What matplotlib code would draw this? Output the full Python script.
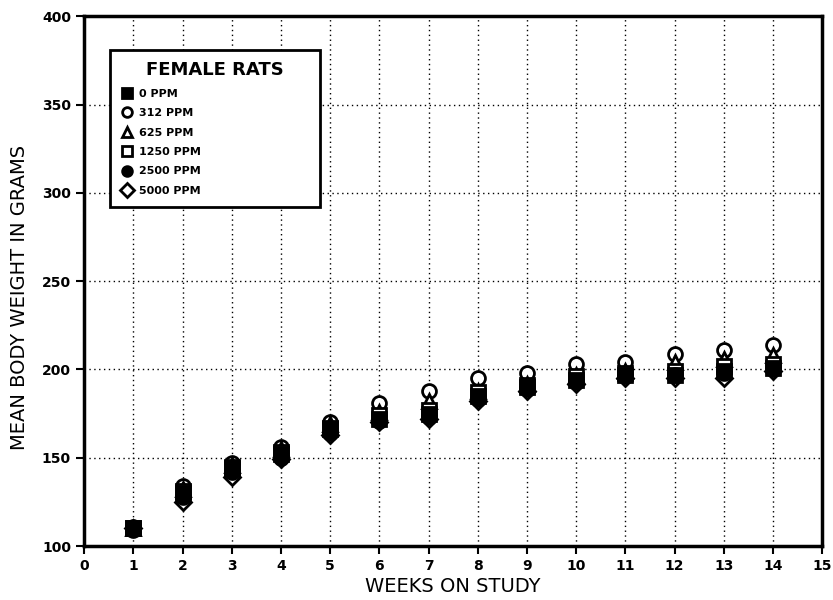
import matplotlib
matplotlib.use("Agg")
import matplotlib.pyplot as plt
from matplotlib import font_manager

weeks = [1, 2, 3, 4, 5, 6, 7, 8, 9, 10, 11, 12, 13, 14]
ppm0 = [110, 130, 145, 152, 166, 172, 175, 185, 190, 194, 197, 197, 199, 201]
ppm312 = [111, 134, 147, 156, 170, 181, 188, 195, 198, 203, 204, 209, 211, 214]
ppm625 = [110, 132, 146, 155, 169, 176, 182, 188, 192, 197, 199, 204, 206, 208]
ppm1250 = [110, 131, 144, 153, 167, 174, 177, 187, 191, 196, 198, 199, 202, 203]
ppm2500 = [109, 128, 142, 150, 164, 171, 173, 183, 189, 193, 196, 197, 198, 200]
ppm5000 = [110, 125, 139, 149, 163, 170, 172, 182, 188, 192, 195, 195, 195, 199]

labels = ["0 PPM", "312 PPM", "625 PPM", "1250 PPM", "2500 PPM", "5000 PPM"]
series = [ppm0, ppm312, ppm625, ppm1250, ppm2500, ppm5000]
markers = ["s", "o", "^", "s", "o", "D"]
filled = [True, False, False, False, True, False]
msizes = [10, 10, 10, 10, 10, 8]

xticks = list(range(0, 16))
yticks = [100, 150, 200, 250, 300, 350, 400]

names = {f.name for f in font_manager.fontManager.ttflist}
if "Liberation Sans Narrow" in names:
    label_kw = dict(family="Liberation Sans Narrow", fontsize=17)
else:
    label_kw = dict(family="DejaVu Sans", fontsize=14)

fig = plt.figure(figsize=(8.33, 6.0), dpi=100)
ax = fig.add_axes([0.101, 0.09, 0.886, 0.883])

order = [1, 2, 3, 5, 0, 4]
handles = [None] * 6
for i in order:
    h, = ax.plot(weeks, series[i], linestyle="none", marker=markers[i],
                 markersize=msizes[i], markeredgewidth=2.0,
                 markeredgecolor="black",
                 markerfacecolor="black" if filled[i] else "white",
                 label=labels[i], zorder=3)
    handles[i] = h

ax.set_xlim(0, 15)
ax.set_ylim(100, 400)
ax.set_xticks(xticks)
ax.set_yticks(yticks)
ax.tick_params(axis="both", direction="out", length=6, width=1.5,
               labelsize=10)
for lab in ax.get_xticklabels() + ax.get_yticklabels():
    lab.set_fontweight("bold")

for x in range(1, 15):
    ax.axvline(x, color="black", linestyle=(0, (1, 2.5)), linewidth=1.0, zorder=1)
for y in [150, 200, 250, 300, 350]:
    ax.axhline(y, color="black", linestyle=(0, (1, 2.5)), linewidth=1.0, zorder=1)

for s in ax.spines.values():
    s.set_linewidth(2.5)

ax.set_xlabel("WEEKS ON STUDY", labelpad=3, **label_kw)
ax.set_ylabel("MEAN BODY WEIGHT IN GRAMS", labelpad=6, **label_kw)
ax.yaxis.set_label_coords(-0.075, 0.47)

leg = ax.legend(handles=handles, labels=labels, title="FEMALE RATS",
                loc="upper left", bbox_to_anchor=(0.035, 0.638, 0.285, 0.298),
                mode="expand", frameon=True, fancybox=False, edgecolor="black",
                framealpha=1.0, borderpad=1.0, labelspacing=0.85,
                handlelength=1.0, handletextpad=0.6, borderaxespad=0.0,
                prop={"weight": "bold", "size": 8},
                title_fontproperties={"weight": "bold", "size": 13})
leg.get_frame().set_linewidth(2.0)
leg.set_zorder(5)
for lh in leg.legend_handles:
    lh.set_markersize(7)

fig.savefig("out.png", dpi=100, facecolor="white")
